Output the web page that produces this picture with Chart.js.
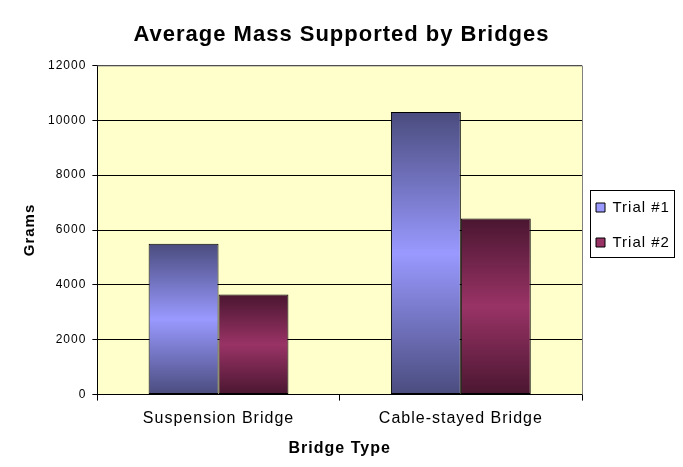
<!DOCTYPE html>
<html>
<head>
<meta charset="utf-8">
<script src="https://cdn.jsdelivr.net/npm/chart.js@4.4.0/dist/chart.umd.min.js"></script>
<style>
  html, body { margin: 0; padding: 0; background: #fff; }
  #wrap { width: 683px; height: 467px; }
</style>
</head>
<body>
<div id="wrap"><canvas id="chart" width="683" height="467"></canvas></div>
<script>
const categories = ['Suspension Bridge', 'Cable-stayed Bridge'];
const trial1 = [5500, 10300];
const trial2 = [3650, 6420];
const seriesNames = ['Trial #1', 'Trial #2'];
const yTicks = [0, 2000, 4000, 6000, 8000, 10000, 12000];

const FONT = 'Arial, "Liberation Sans", sans-serif';

// dark at top and bottom, light in the middle, like the old Excel fill
function barGradient(dark, light) {
  return ctx => {
    const chart = ctx.chart;
    const y = chart.scales.y;
    if (ctx.type !== 'data' || !y || !chart.chartArea) return light;
    const top = y.getPixelForValue(ctx.raw);
    const bottom = y.getPixelForValue(0);
    if (!isFinite(top) || !isFinite(bottom) || top === bottom) return light;
    const g = chart.ctx.createLinearGradient(0, top, 0, bottom);
    g.addColorStop(0, dark);
    g.addColorStop(0.5, light);
    g.addColorStop(1, dark);
    return g;
  };
}

// old GDI text is a bit wider than canvas text
const spacing = {
  id: 'spacing',
  beforeUpdate(chart) { chart.ctx.letterSpacing = '1px'; },
  beforeDraw(chart) { chart.ctx.letterSpacing = '1px'; }
};

// nudge the legend so it sits a bit closer to the plot
const legendNudge = {
  id: 'legendNudge',
  afterLayout(chart) {
    const lg = chart.legend;
    lg.left -= 6; lg.right -= 6;
    lg.top -= 4; lg.bottom -= 4;
  }
};

const plotFrame = {
  id: 'plotFrame',
  beforeDraw(chart) {
    const { ctx, chartArea: a } = chart;
    ctx.save();
    ctx.fillStyle = '#ffffcc';
    ctx.fillRect(a.left, a.top, a.right - a.left, a.bottom - a.top);
    ctx.restore();
  },
  afterDraw(chart) {
    const { ctx, chartArea: a, legend } = chart;
    ctx.save();
    ctx.strokeStyle = '#808080';
    ctx.lineWidth = 1;
    ctx.beginPath();
    ctx.moveTo(a.left, a.top + 0.5);
    ctx.lineTo(a.right + 0.5, a.top + 0.5);
    ctx.lineTo(a.right + 0.5, a.bottom);
    ctx.stroke();
    // frame round the legend
    ctx.strokeStyle = '#000';
    ctx.strokeRect(590.5, 190.5, 84, 67);
    ctx.restore();
  }
};

new Chart(document.getElementById('chart'), {
  type: 'bar',
  data: {
    labels: categories,
    datasets: [
      {
        label: seriesNames[0],
        data: trial1,
        backgroundColor: barGradient('#4a4c7e', '#9999ff'),
        borderColor: '#000',
        borderWidth: 1,
        borderSkipped: false
      },
      {
        label: seriesNames[1],
        data: trial2,
        backgroundColor: barGradient('#4a1630', '#993366'),
        borderColor: '#000',
        borderWidth: 1,
        borderSkipped: false
      }
    ]
  },
  options: {
    responsive: false,
    animation: false,
    devicePixelRatio: 1,
    categoryPercentage: 0.577,
    barPercentage: 1,
    layout: { padding: { left: 0, right: 0, top: 0, bottom: 9 } },
    plugins: {
      title: {
        display: true,
        text: 'Average Mass Supported by Bridges',
        color: '#000',
        font: { family: FONT, size: 22, weight: 'bold' },
        padding: { top: 22, bottom: 17 }
      },
      legend: {
        position: 'right',
        maxWidth: 101,
        labels: {
          color: '#000',
          font: { family: FONT, size: 15 },
          boxWidth: 9,
          boxHeight: 9,
          padding: 20,
          generateLabels: chart => chart.data.datasets.map((ds, i) => ({
            text: ds.label,
            fillStyle: i === 0 ? '#9999ff' : '#993366',
            strokeStyle: '#000',
            lineWidth: 1,
            datasetIndex: i
          }))
        }
      },
      tooltip: { enabled: false }
    },
    scales: {
      x: {
        grid: {
          offset: true,
          drawOnChartArea: false,
          drawTicks: true,
          tickLength: 6,
          color: '#000'
        },
        border: { color: '#000', width: 1 },
        ticks: { color: '#000', font: { family: FONT, size: 16 }, padding: 8 },
        title: {
          display: true,
          text: 'Bridge Type',
          color: '#000',
          font: { family: FONT, size: 16, weight: 'bold' },
          padding: { top: 3, bottom: 0 }
        }
      },
      y: {
        min: yTicks[0],
        max: yTicks[yTicks.length - 1],
        afterBuildTicks: axis => { axis.ticks = yTicks.map(v => ({ value: v })); },
        ticks: { color: '#000', font: { family: FONT, size: 12 }, padding: 6, callback: v => String(v) },
        grid: { color: '#000', tickLength: 5, drawTicks: true },
        border: { color: '#000', width: 1 },
        title: {
          display: true,
          text: 'Grams',
          color: '#000',
          font: { family: FONT, size: 15, weight: 'bold' },
          padding: { top: 21, bottom: 3 }
        }
      }
    }
  },
  plugins: [spacing, legendNudge, plotFrame]
});
</script>
</body>
</html>
